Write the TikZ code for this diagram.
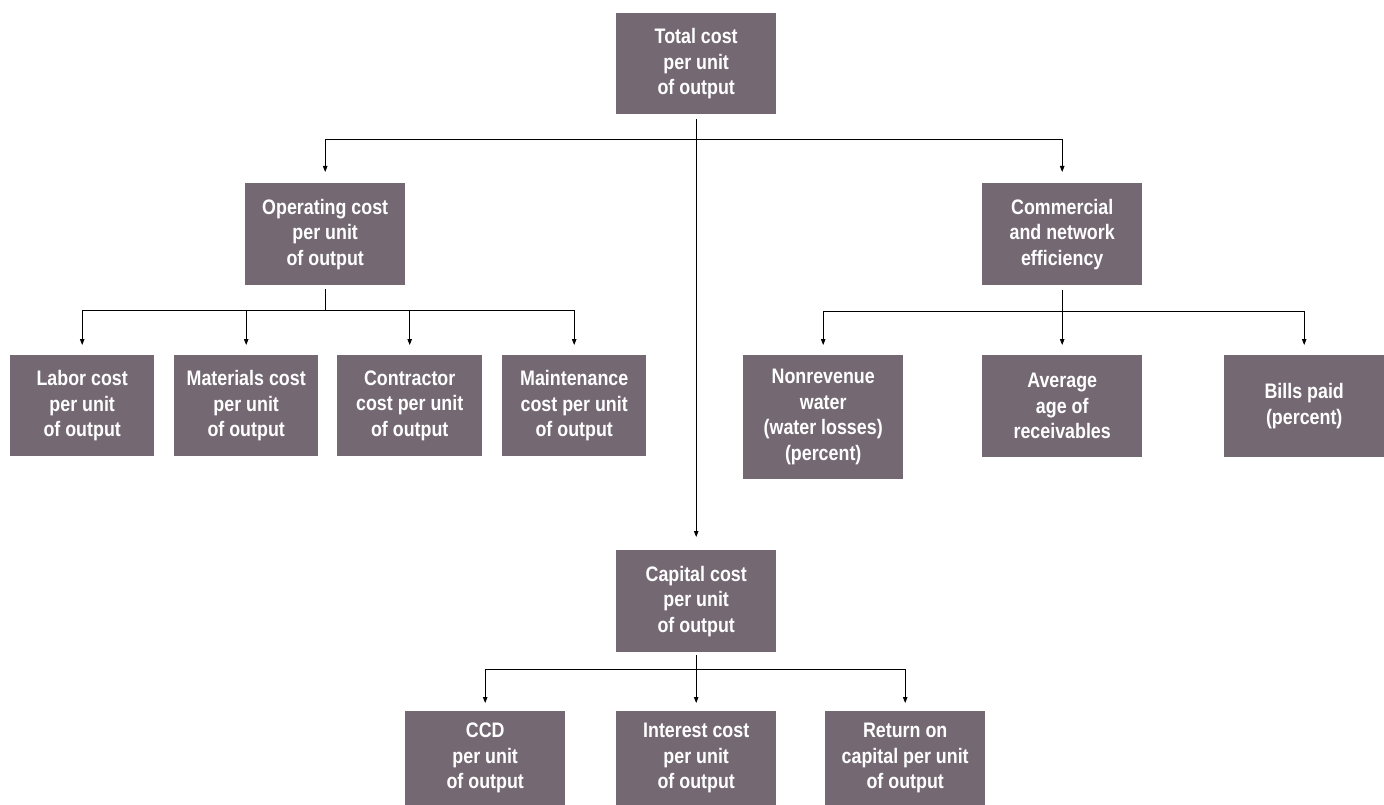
\documentclass[tikz,border=0pt]{standalone}
\usepackage{fontspec}
\newfontfamily\boxfont{Liberation Sans}[FakeStretch=0.85]
\usetikzlibrary{arrows.meta,calc}
\definecolor{boxfill}{RGB}{116,104,115}
\begin{document}
\begin{tikzpicture}[x=1pt,y=-1pt,
  box/.style={fill=boxfill,draw=none,text=white,align=center,inner sep=0pt,anchor=north west,
    font=\boxfont\bfseries\fontsize{21}{25.5}\selectfont},
  conn/.style={line width=0.9pt,draw=black},
  arr/.style={conn,-{Triangle[length=6pt,width=4.5pt]}}]
\useasboundingbox (0,0) rectangle (1384,805);
% nodes
\node[box,minimum width=160pt,minimum height=101pt] (top) at (616,13) {Total cost\\per unit\\of output};
\node[box,minimum width=160pt,minimum height=102pt] (op) at (245,183) {Operating cost\\per unit\\of output};
\node[box,minimum width=160pt,minimum height=102pt] (comm) at (982,183) {Commercial\\and network\\efficiency};
\node[box,minimum width=144pt,minimum height=101pt] (labor) at (10,355) {Labor cost\\per unit\\of output};
\node[box,minimum width=144pt,minimum height=101pt] (mat) at (174,355) {Materials cost\\per unit\\of output};
\node[box,minimum width=145pt,minimum height=101pt] (contr) at (337,355) {Contractor\\cost per unit\\of output};
\node[box,minimum width=144pt,minimum height=101pt] (maint) at (502,355) {Maintenance\\cost per unit\\of output};
\node[box,minimum width=160pt,minimum height=124pt] (nrw) at (743,355) {Nonrevenue\\water\\(water losses)\\(percent)};
\node[box,minimum width=160pt,minimum height=102pt] (avg) at (982,355) {Average\\age of\\receivables};
\node[box,minimum width=160pt,minimum height=102pt] (bills) at (1224,355) {Bills paid\\(percent)};
\node[box,minimum width=160pt,minimum height=102pt] (cap) at (616,550) {Capital cost\\per unit\\of output};
\node[box,minimum width=160pt,minimum height=94pt] (ccd) at (405,711) {CCD\\per unit\\of output};
\node[box,minimum width=160pt,minimum height=94pt] (int) at (616,711) {Interest cost\\per unit\\of output};
\node[box,minimum width=160pt,minimum height=94pt] (ret) at (825,711) {Return on\\capital per unit\\of output};
% bus levels
\coordinate (L1) at (0,139);
\coordinate (L2) at (0,310);
\coordinate (L3) at (0,311);
\coordinate (L4) at (0,669);
% top level
\draw[arr] ([yshift=-5pt]top.south) -- ([yshift=13pt]cap.north);
\draw[conn] (L1 -| op.north) -- (L1 -| comm.north);
\draw[arr] (L1 -| op.north) -- ([yshift=11pt]op.north);
\draw[arr] (L1 -| comm.north) -- ([yshift=11pt]comm.north);
% operating
\draw[conn] ([yshift=-4pt]op.south) -- (L2 -| op.south);
\draw[conn] (L2 -| labor.north) -- (L2 -| maint.north);
\foreach \n in {labor,mat,contr,maint}
  \draw[arr] (L2 -| \n.north) -- ([yshift=10pt]\n.north);
% commercial
\draw[arr] ([yshift=-5pt]comm.south) -- ([yshift=10pt]avg.north);
\draw[conn] (L3 -| nrw.north) -- (L3 -| bills.north);
\draw[arr] (L3 -| nrw.north) -- ([yshift=10pt]nrw.north);
\draw[arr] (L3 -| bills.north) -- ([yshift=10pt]bills.north);
% capital
\draw[arr] ([yshift=-3pt]cap.south) -- ([yshift=8pt]int.north);
\draw[conn] (L4 -| ccd.north) -- (L4 -| ret.north);
\draw[arr] (L4 -| ccd.north) -- ([yshift=8pt]ccd.north);
\draw[arr] (L4 -| ret.north) -- ([yshift=8pt]ret.north);
\end{tikzpicture}
\end{document}
